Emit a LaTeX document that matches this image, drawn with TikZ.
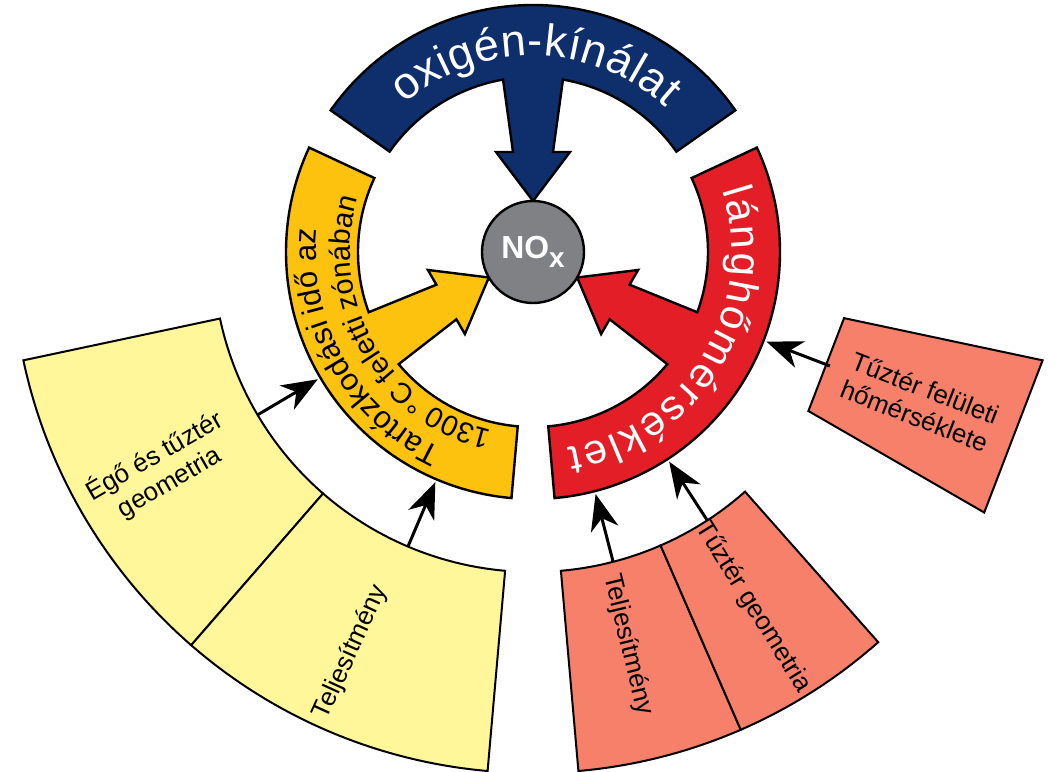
\documentclass[tikz,border=0pt]{standalone}
\usepackage{fontspec}
\setmainfont{Liberation Sans}
\usetikzlibrary{decorations.text,arrows.meta}
\definecolor{navyband}{HTML}{0E2F6B}
\definecolor{goldband}{HTML}{FDC20E}
\definecolor{redband}{HTML}{E41E26}
\definecolor{noxgray}{HTML}{808184}
\definecolor{lightyel}{HTML}{FFF799}
\definecolor{salmon}{HTML}{F6806A}
\begin{document}
\begin{tikzpicture}[x=1bp,y=1bp,
  band/.style={draw=black,line width=2.4bp,line join=miter},
  boxshape/.style={draw=black,line width=2bp,line join=miter},
  boxtxt/.style={font=\fontsize{26}{30}\selectfont,align=center,inner sep=0pt,text=black},
  conn/.style={line width=3bp,-{Stealth[length=36bp,width=28bp,inset=11bp]}},
  bandtext/.style={decorate,decoration={text along path,text align={fit to path}}}
]
\useasboundingbox (0,0) rectangle (1058,-772);
\clip (0,0) rectangle (1058,-772);
\begin{scope}[shift={(533,-252)}]
  % outer boxes
  \path[boxshape,fill=lightyel] (192:320) -- (192:521) arc[start angle=192,end angle=229,radius=521] -- (229:320) arc[start angle=229,end angle=192,radius=320] -- cycle;
  \path[boxshape,fill=lightyel] (229:320) -- (229:521) arc[start angle=229,end angle=265,radius=521] -- (265:320) arc[start angle=265,end angle=229,radius=320] -- cycle;
  \path[boxshape,fill=salmon] (-85:320) -- (-85:521) arc[start angle=-85,end angle=-66.5,radius=521] -- (-66.5:320) arc[start angle=-66.5,end angle=-85,radius=320] -- cycle;
  \path[boxshape,fill=salmon] (-66.5:320) -- (-66.5:521) arc[start angle=-66.5,end angle=-48.5,radius=521] -- (-48.5:320) arc[start angle=-48.5,end angle=-66.5,radius=320] -- cycle;
  \path[boxshape,fill=salmon] (-12:318) -- (-12:521) -- (-30:521) -- (-30:318) -- cycle;

  % box texts
  \node[boxtxt,rotate=30] (tEgo) at (210.3:430) {Égő és tűztér\\geometria};
  \node[boxtxt,rotate=65.5] (tTelL) at (245.5:440) {Teljesítmény};
  \node[boxtxt,rotate=-76.4] (tTelR) at (-76.4:404) {Teljesítmény};
  \node[boxtxt,rotate=-58.2] (tGeo) at (-58.2:418) {Tűztér geometria};
  \node[boxtxt,rotate=-21.2] (tFel) at (-21.2:415) {Tűztér felületi\\hőmérséklete};

  % connector end points
  \coordinate (s1) at (210.6:320); \coordinate (e1) at (210.6:250);
  \coordinate (s2) at (247:320);   \coordinate (e2) at (247:250);
  \coordinate (s3) at (-75.5:320); \coordinate (e3) at (-75.5:250);
  \coordinate (s4) at (-57:320);   \coordinate (e4) at (-57:250);
  \coordinate (s5) at (-21:318);   \coordinate (e5) at (-21:250);
  \draw[conn] (s1) -- (e1);
  \draw[conn] (s2) -- (e2);
  \draw[conn] (s3) -- (e3);
  \draw[conn] (s4) -- (e4);
  \draw[conn] (s5) -- (e5);

  % bands with arrows
  \foreach \rot/\col in {0/navyband,120/goldband,-120/redband}{
    \begin{scope}[rotate=\rot]
      \path[band,fill=\col] (35:247) arc[start angle=35,end angle=145,radius=247]
        -- (145:175) arc[start angle=145,end angle=99.86,radius=175]
        -- (-20,100) -- (-37,100) -- (0,51) -- (37,100) -- (20,100)
        -- (80.14:175) arc[start angle=80.14,end angle=35,radius=175] -- cycle;
    \end{scope}
  }

  % NOx circle
  \node[circle,draw=black,line width=2.4bp,fill=noxgray,minimum size=102bp,inner sep=0pt,
        text=white,font=\bfseries\fontsize{32}{32}\selectfont] (nox) at (0,0)
        {NO\raisebox{-9bp}{\fontsize{28}{28}\selectfont x}};

  % band texts
  \path[bandtext,decoration={text={|\fontsize{45}{45}\selectfont\color{white}|oxigén-kínálat}}]
    (131:196) arc[start angle=131,end angle=47.5,radius=196];
  \path[bandtext,decoration={text={|\fontsize{42}{42}\selectfont\color{white}|lánghőmérséklet}}]
    (18:199) arc[start angle=18,end angle=-80,radius=199];
  \path[bandtext,decoration={text={|\fontsize{31}{31}\selectfont\color{black}|Tartózkodási idő az}}]
    (245:217) arc[start angle=245,end angle=174,radius=217];
  \path[bandtext,decoration={text={|\fontsize{29}{29}\selectfont\color{black}|1300 °C feletti zónában}}]
    (257:183) arc[start angle=257,end angle=163,radius=183];
\end{scope}
\end{tikzpicture}
\end{document}
